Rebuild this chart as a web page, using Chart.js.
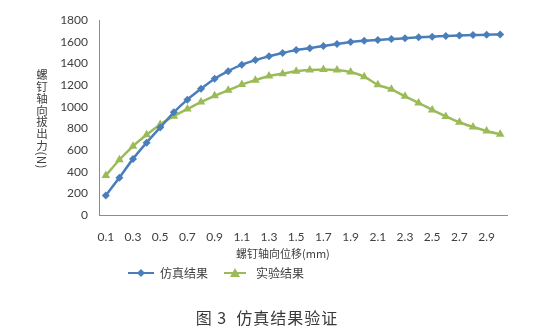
<!DOCTYPE html>
<html><head><meta charset="utf-8">
<script src="https://cdn.jsdelivr.net/npm/chart.js@4/dist/chart.umd.min.js"></script>
<style>
html,body{margin:0;padding:0;background:#fff;}
#wrap{position:relative;width:548px;height:330px;overflow:hidden;}
canvas{position:absolute;left:0;top:0;}
.txt{position:absolute;font-family:"Noto Sans CJK SC",sans-serif;color:#404040;white-space:nowrap;}
#ytitle{left:35px;top:69px;writing-mode:vertical-rl;font-size:11.5px;line-height:13px;letter-spacing:0.3px;}
#xtitle{left:236px;top:245px;font-size:11px;}
#legend{left:128px;top:264px;font-size:12px;display:flex;align-items:center;}
.item{display:flex;align-items:center;margin-right:14px;}
.sw{position:relative;width:26px;height:12px;margin-right:6px;}
.ln{position:absolute;left:0;top:5px;width:26px;height:2px;}
#caption{left:0;width:534px;text-align:center;top:305px;font-size:16px;color:#3a3a3a;letter-spacing:1px;}
</style></head>
<body>
<div id="wrap">
<canvas id="c" width="548" height="330"></canvas>
<div id="ytitle" class="txt">螺钉轴向拔出力(N)</div>
<div id="xtitle" class="txt">螺钉轴向位移(mm)</div>
<div id="legend" class="txt">
  <div class="item"><div class="sw"><div class="ln" style="background:#4a7ebb"></div><svg style="position:absolute;left:9px;top:2px" width="8" height="8"><polygon points="4,0 8,4 4,8 0,4" fill="#4a7ebb"/></svg></div><span>仿真结果</span></div>
  <div class="item" style="margin-left:2px"><div class="sw" style="width:22px"><div class="ln" style="background:#9bbb59;width:22px"></div><svg style="position:absolute;left:6px;top:1px" width="10" height="9"><polygon points="5,0 10,9 0,9" fill="#9bbb59"/></svg></div><span style="margin-left:4px">实验结果</span></div>
</div>
<div id="caption" class="txt">图 3&nbsp;&nbsp;仿真结果验证</div>
</div>
<script>
const categories = ["0.1","0.2","0.3","0.4","0.5","0.6","0.7","0.8","0.9","1.0","1.1","1.2","1.3","1.4","1.5","1.6","1.7","1.8","1.9","2.0","2.1","2.2","2.3","2.4","2.5","2.6","2.7","2.8","2.9","3.0"];
const simulation = [180,345,518,668,808,948,1065,1165,1258,1328,1388,1430,1466,1496,1522,1540,1560,1578,1596,1608,1615,1624,1631,1640,1646,1652,1657,1661,1664,1666];
const experiment = [365,510,635,740,835,912,978,1042,1100,1152,1204,1245,1283,1305,1326,1338,1344,1338,1320,1277,1202,1160,1096,1035,970,910,856,812,776,745];
const yTicks = [0,200,400,600,800,1000,1200,1400,1600,1800];

const tickFont = {family:"Lato", size:12};
new Chart(document.getElementById('c'), {
  type:'line',
  data:{
    labels:categories,
    datasets:[
      {label:'仿真结果', data:simulation, borderColor:'#4a7ebb', backgroundColor:'#4a7ebb', borderWidth:2.5, pointStyle:'rectRot', pointRadius:4, pointBorderWidth:0, tension:0.2},
      {label:'实验结果', data:experiment, borderColor:'#9bbb59', backgroundColor:'#9bbb59', borderWidth:2.5, pointStyle:'triangle', pointRadius:5, pointBorderWidth:0, tension:0.2}
    ]
  },
  options:{
    responsive:false, animation:false,
    layout:{padding:{left:59, right:41, top:20, bottom:85}},
    plugins:{legend:{display:false}, tooltip:{enabled:false}},
    scales:{
      x:{
        offset:true,
        grid:{display:false, drawTicks:false},
        border:{display:true, color:'#8c8c8c', width:1},
        ticks:{autoSkip:false, maxRotation:0, minRotation:0, padding:15, color:'#404040', font:tickFont,
          callback:function(v,i){return i%2===0 ? categories[i] : '';}},
        afterFit:function(s){s.height=30;}
      },
      y:{
        min:0, max:1800,
        grid:{display:false, drawTicks:false},
        border:{display:true, color:'#8c8c8c', width:1},
        afterBuildTicks:function(s){s.ticks = yTicks.map(v=>({value:v}));},
        ticks:{padding:11, color:'#404040', font:tickFont, callback:function(v){return String(v);}},
        afterFit:function(s){s.width=40;}
      }
    }
  }
});
</script>
</body></html>
